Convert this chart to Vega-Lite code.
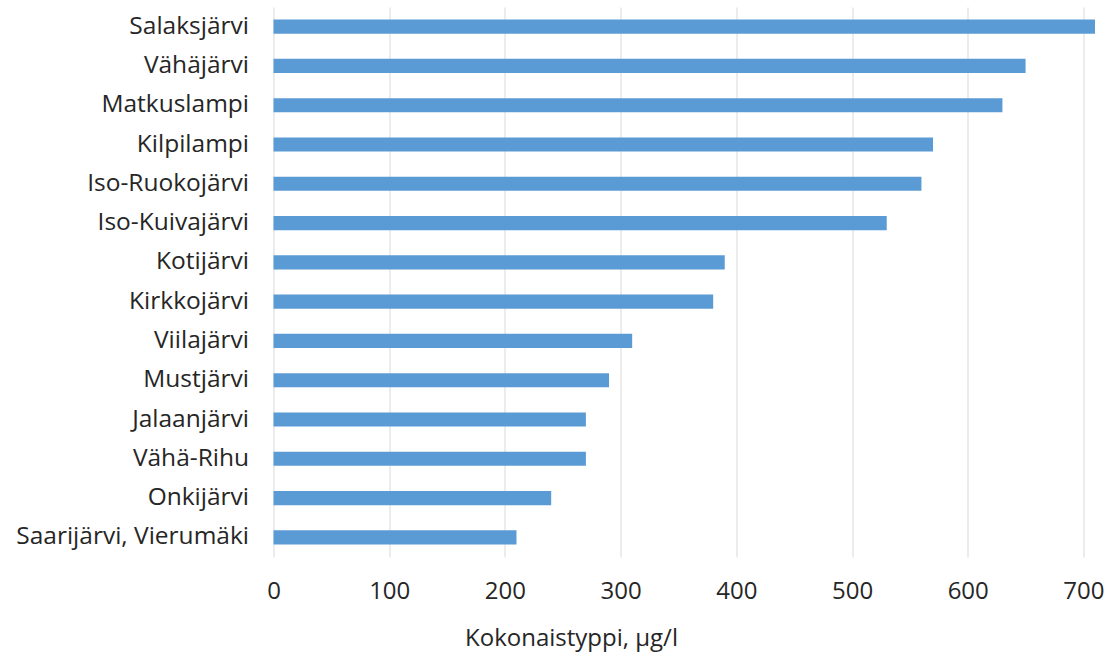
{
  "$schema": "https://vega.github.io/schema/vega-lite/v6.json",
  "autosize": {"type": "none"},
  "width": 821.5,
  "height": 550,
  "padding": {"left": 273.5, "top": 7, "right": 15, "bottom": 100},
  "background": "white",
  "data": {
    "values": [
      {"lake": "Salaksjärvi", "tn": 710},
      {"lake": "Vähäjärvi", "tn": 650},
      {"lake": "Matkuslampi", "tn": 630},
      {"lake": "Kilpilampi", "tn": 570},
      {"lake": "Iso-Ruokojärvi", "tn": 560},
      {"lake": "Iso-Kuivajärvi", "tn": 530},
      {"lake": "Kotijärvi", "tn": 390},
      {"lake": "Kirkkojärvi", "tn": 380},
      {"lake": "Viilajärvi", "tn": 310},
      {"lake": "Mustjärvi", "tn": 290},
      {"lake": "Jalaanjärvi", "tn": 270},
      {"lake": "Vähä-Rihu", "tn": 270},
      {"lake": "Onkijärvi", "tn": 240},
      {"lake": "Saarijärvi, Vierumäki", "tn": 210}
    ]
  },
  "mark": {"type": "bar", "color": "#5B9BD5"},
  "encoding": {
    "y": {
      "field": "lake",
      "type": "nominal",
      "sort": null,
      "scale": {"paddingInner": 0.64, "paddingOuter": 0.32},
      "axis": {
        "title": null,
        "ticks": false,
        "domain": false,
        "labelFont": "Open Sans",
        "labelFontSize": 24.5,
        "labelColor": "#262626",
        "labelPadding": 25,
        "labelLimit": 0
      }
    },
    "x": {
      "field": "tn",
      "type": "quantitative",
      "scale": {"domain": [0, 710], "nice": false},
      "axis": {
        "title": "Kokonaistyppi, µg/l",
        "values": [0, 100, 200, 300, 400, 500, 600, 700],
        "ticks": false,
        "domain": false,
        "grid": true,
        "gridColor": "#D9D9D9",
        "gridWidth": 1,
        "labelFont": "Open Sans",
        "labelFontSize": 24,
        "labelColor": "#262626",
        "labelPadding": 22,
        "labelFlush": false,
        "labelOverlap": false,
        "titleFont": "Open Sans",
        "titleFontSize": 24,
        "titleFontWeight": "normal",
        "titleColor": "#262626",
        "titleX": 297.5,
        "titleY": 88,
        "titleAlign": "center",
        "titleBaseline": "alphabetic"
      }
    }
  },
  "config": {"view": {"stroke": null}}
}
